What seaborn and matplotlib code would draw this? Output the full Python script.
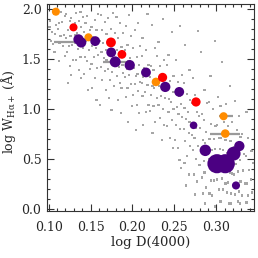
import matplotlib
matplotlib.use("Agg")
import matplotlib.pyplot as plt
import seaborn as sns
import pandas as pd
from matplotlib.ticker import MultipleLocator

# ---------------- data ----------------
grey_x = [
    0.106, 0.102, 0.109, 0.101, 0.104, 0.108, 0.103, 0.105, 0.107,
    0.115, 0.119, 0.112, 0.116, 0.111, 0.118, 0.114, 0.113, 0.117, 0.119, 0.112,
    0.121, 0.127, 0.125, 0.129, 0.123, 0.126, 0.121, 0.128, 0.124, 0.122, 0.129, 0.125, 0.127, 0.123,
    0.138, 0.133, 0.131, 0.136, 0.139, 0.134, 0.132, 0.137, 0.131, 0.135, 0.138, 0.133, 0.136, 0.139,
    0.146, 0.141, 0.144, 0.149, 0.142, 0.147, 0.145, 0.141, 0.148, 0.143, 0.146, 0.149, 0.142, 0.147,
    0.159, 0.155, 0.151, 0.157, 0.153, 0.158, 0.152, 0.156, 0.159, 0.154, 0.151, 0.158, 0.155, 0.152, 0.157,
    0.162, 0.167, 0.164, 0.169, 0.161, 0.165, 0.168, 0.163, 0.166, 0.169, 0.162, 0.167, 0.164, 0.168, 0.161,
    0.177, 0.171, 0.174, 0.179, 0.173, 0.176, 0.172, 0.178, 0.175, 0.179, 0.171, 0.176, 0.173, 0.178, 0.172, 0.175,
    0.181, 0.185, 0.189, 0.183, 0.187, 0.182, 0.186, 0.181, 0.188, 0.184, 0.189, 0.182, 0.185, 0.187, 0.183, 0.186,
    0.196, 0.192, 0.198, 0.194, 0.191, 0.197, 0.195, 0.199, 0.193, 0.196, 0.191, 0.198, 0.194, 0.192, 0.199, 0.195,
    0.207, 0.203, 0.209, 0.201, 0.205, 0.208, 0.202, 0.206, 0.204, 0.209, 0.203, 0.207, 0.201, 0.205, 0.208, 0.204,
    0.218, 0.212, 0.216, 0.211, 0.219, 0.214, 0.217, 0.213, 0.211, 0.218, 0.215, 0.212, 0.219, 0.216, 0.213,
    0.223, 0.227, 0.229, 0.222, 0.225, 0.221, 0.228, 0.224, 0.226, 0.222, 0.229, 0.225, 0.221, 0.227, 0.224,
    0.236, 0.231, 0.238, 0.233, 0.235, 0.239, 0.232, 0.237, 0.234, 0.239, 0.231, 0.236, 0.233, 0.238, 0.235,
    0.247, 0.243, 0.241, 0.249, 0.245, 0.242, 0.248, 0.244, 0.246, 0.249, 0.243, 0.247, 0.241, 0.245, 0.248,
    0.257, 0.252, 0.259, 0.254, 0.251, 0.256, 0.258, 0.253, 0.255, 0.259, 0.252, 0.257, 0.251, 0.254, 0.256, 0.258,
    0.263, 0.268, 0.261, 0.265, 0.269, 0.262, 0.266, 0.264, 0.268, 0.261, 0.267, 0.263, 0.269, 0.265, 0.262, 0.267, 0.264,
    0.278, 0.272, 0.275, 0.271, 0.277, 0.279, 0.273, 0.276, 0.271, 0.274, 0.278, 0.272, 0.276, 0.279, 0.273, 0.277, 0.275,
    0.282, 0.286, 0.289, 0.283, 0.285, 0.281, 0.288, 0.284, 0.287, 0.282, 0.289, 0.285, 0.281, 0.286, 0.283, 0.288, 0.284, 0.287,
    0.298, 0.293, 0.291, 0.296, 0.294, 0.299, 0.292, 0.297, 0.295, 0.298, 0.293, 0.291, 0.296, 0.299, 0.294, 0.297, 0.292, 0.295, 0.298,
    0.307, 0.302, 0.305, 0.309, 0.301, 0.306, 0.303, 0.308, 0.304, 0.306, 0.302, 0.309, 0.305, 0.301, 0.307, 0.303, 0.308, 0.304, 0.306,
    0.316, 0.312, 0.319, 0.314, 0.311, 0.317, 0.313, 0.318, 0.315, 0.312, 0.319, 0.316, 0.311, 0.314, 0.318, 0.313, 0.317, 0.315,
    0.322, 0.327, 0.325, 0.329, 0.321, 0.324, 0.328, 0.323, 0.326, 0.321, 0.329, 0.324, 0.327, 0.322, 0.326, 0.328,
    0.336, 0.331, 0.338, 0.333, 0.335, 0.339, 0.332, 0.337, 0.334, 0.338, 0.331, 0.336,
    0.342, 0.344, 0.341, 0.343,
]
grey_y = [
    1.95, 1.88, 1.84, 1.82, 1.77, 1.75, 1.68, 1.65, 1.57,
    1.97, 1.93, 1.86, 1.87, 1.80, 1.74, 1.73, 1.66, 1.63, 1.53, 1.48,
    1.95, 1.91, 1.88, 1.82, 1.79, 1.73, 1.71, 1.64, 1.63, 1.57, 1.49, 1.43, 1.34, 1.26,
    1.97, 1.96, 1.86, 1.88, 1.82, 1.76, 1.74, 1.67, 1.66, 1.60, 1.52, 1.49, 1.39, 1.31,
    1.93, 1.92, 1.86, 1.79, 1.77, 1.70, 1.68, 1.61, 1.59, 1.52, 1.48, 1.40, 1.35, 1.19,
    1.95, 1.89, 1.82, 1.79, 1.72, 1.70, 1.63, 1.61, 1.54, 1.52, 1.45, 1.41, 1.31, 1.21, 1.09,
    1.94, 1.87, 1.79, 1.75, 1.68, 1.66, 1.59, 1.57, 1.51, 1.49, 1.42, 1.38, 1.29, 1.19, 1.04,
    1.96, 1.91, 1.80, 1.76, 1.67, 1.63, 1.56, 1.54, 1.48, 1.46, 1.40, 1.37, 1.29, 1.23, 1.11, 0.99,
    1.92, 1.86, 1.76, 1.71, 1.62, 1.59, 1.52, 1.50, 1.44, 1.42, 1.36, 1.33, 1.26, 1.21, 1.09, 0.96,
    1.94, 1.83, 1.73, 1.64, 1.59, 1.51, 1.48, 1.42, 1.40, 1.34, 1.32, 1.25, 1.21, 1.12, 1.03, 0.87,
    1.86, 1.79, 1.63, 1.61, 1.52, 1.44, 1.41, 1.35, 1.33, 1.27, 1.25, 1.18, 1.14, 1.04, 0.96, 0.79,
    1.95, 1.71, 1.59, 1.53, 1.44, 1.41, 1.34, 1.32, 1.26, 1.24, 1.17, 1.13, 1.04, 0.97, 0.84,
    1.84, 1.61, 1.53, 1.43, 1.39, 1.32, 1.29, 1.23, 1.21, 1.14, 1.11, 1.03, 0.98, 0.87, 0.76,
    1.90, 1.67, 1.49, 1.43, 1.34, 1.30, 1.23, 1.20, 1.13, 1.11, 1.04, 1.00, 0.91, 0.84, 0.69,
    1.77, 1.54, 1.44, 1.33, 1.28, 1.20, 1.17, 1.10, 1.07, 1.00, 0.97, 0.89, 0.83, 0.71, 0.61,
    1.83, 1.49, 1.34, 1.27, 1.17, 1.13, 1.05, 1.02, 0.95, 0.92, 0.84, 0.80, 0.69, 0.61, 0.49, 0.41,
    1.64, 1.39, 1.26, 1.15, 1.09, 1.01, 0.97, 0.90, 0.87, 0.80, 0.76, 0.68, 0.63, 0.53, 0.46, 0.34, 0.23,
    1.78, 1.31, 1.14, 1.06, 0.97, 0.93, 0.85, 0.81, 0.74, 0.71, 0.63, 0.59, 0.50, 0.44, 0.34, 0.27, 0.14,
    1.57, 1.19, 1.06, 0.95, 0.89, 0.81, 0.77, 0.69, 0.66, 0.59, 0.56, 0.48, 0.44, 0.36, 0.31, 0.21, 0.15, 0.05,
    1.68, 1.33, 1.07, 1.00, 0.85, 0.83, 0.70, 0.70, 0.59, 0.60, 0.49, 0.50, 0.39, 0.40, 0.28, 0.28, 0.15, 0.13, 0.02,
    1.47, 1.12, 1.03, 0.87, 0.84, 0.71, 0.71, 0.59, 0.60, 0.49, 0.50, 0.39, 0.40, 0.29, 0.30, 0.19, 0.19, 0.07, 0.07,
    1.23, 1.05, 0.87, 0.83, 0.69, 0.68, 0.56, 0.56, 0.45, 0.46, 0.35, 0.36, 0.25, 0.26, 0.15, 0.16, 0.05, 0.05,
    1.08, 0.93, 0.79, 0.72, 0.62, 0.57, 0.49, 0.45, 0.37, 0.34, 0.27, 0.24, 0.17, 0.14, 0.07, 0.05,
    0.97, 0.75, 0.71, 0.55, 0.53, 0.39, 0.38, 0.25, 0.25, 0.13, 0.13, 0.06,
    0.58, 0.46, 0.29, 0.16,
]

# horizontal error bars (grey)
err_y = [1.672, 1.470, 0.751, 0.925]
err_xlo = [0.1066, 0.165, 0.293, 0.303]
err_xhi = [0.135, 0.197, 0.3287, 0.3195]

orange_x = [0.1086, 0.1475, 0.228, 0.3087, 0.3107]
orange_y = [1.973, 1.716, 1.269, 0.925, 0.751]
orange_s = [34, 34, 38, 34, 38]

red_x = [0.1296, 0.1743, 0.1874, 0.2359, 0.2758]
red_y = [1.816, 1.665, 1.545, 1.314, 1.068]
red_s = [34, 50, 40, 44, 44]

purple_x = [0.1356, 0.1388, 0.1555, 0.1746, 0.1794, 0.1967, 0.2161, 0.2391,
            0.2558, 0.2729, 0.2869, 0.3008, 0.3107, 0.3207, 0.3275, 0.3235]
purple_y = [1.695, 1.665, 1.678, 1.565, 1.470, 1.437, 1.364, 1.219,
            1.169, 0.834, 0.583, 0.449, 0.449, 0.550, 0.626, 0.231]
purple_s = [55, 55, 50, 50, 62, 55, 50, 55,
            50, 30, 68, 190, 190, 100, 55, 34]

# ---------------- plot ----------------
sns.set_theme(style="ticks")
plt.rcParams['font.family'] = ['DejaVu Serif', 'DejaVu Sans']
plt.rcParams['mathtext.fontset'] = 'dejavuserif'

fig = plt.figure(figsize=(2.58, 2.58), dpi=100)
ax = fig.add_axes([47/258, 1 - 211/258, 207/258, 207/258])

grey_df = pd.DataFrame({"x": grey_x, "y": grey_y})
sns.scatterplot(data=grey_df, x="x", y="y", ax=ax, s=2.5, marker="s",
                color="#a6a6a6", edgecolor="none", linewidth=0, zorder=1)

ax.hlines(err_y, err_xlo, err_xhi, colors="#9a9a9a", linewidth=1.6, zorder=2)

for xs, ys, ss, col in [(orange_x, orange_y, orange_s, "#ff8c00"),
                        (red_x, red_y, red_s, "#ff0000"),
                        (purple_x, purple_y, purple_s, "#4b0082")]:
    df = pd.DataFrame({"x": xs, "y": ys, "s": ss})
    ax.scatter(df["x"], df["y"], s=df["s"], color=col, edgecolor="none",
               linewidth=0, zorder=3)

ax.set_xlim(0.098, 0.345)
ax.set_ylim(-0.025, 2.05)
ax.xaxis.set_major_locator(MultipleLocator(0.05))
ax.xaxis.set_minor_locator(MultipleLocator(0.01))
ax.yaxis.set_major_locator(MultipleLocator(0.5))
ax.yaxis.set_minor_locator(MultipleLocator(0.1))
ax.xaxis.set_major_formatter(plt.FormatStrFormatter('%.2f'))
ax.yaxis.set_major_formatter(plt.FormatStrFormatter('%.1f'))

ax.tick_params(which='both', direction='in', top=True, right=True,
               color='#333333', width=0.8)
ax.tick_params(which='major', length=5)
ax.tick_params(which='minor', length=2.5)
ax.tick_params(axis='x', which='major', labelsize=9, pad=7)
ax.tick_params(axis='y', which='major', labelsize=9, pad=4)
for sp in ax.spines.values():
    sp.set_color('#333333')
    sp.set_linewidth(0.8)

ax.set_xlabel("log D(4000)", fontsize=9.5)
ax.set_ylabel(r"log W$_{\mathrm{H\alpha +}}$ ($\mathrm{\AA}$)", fontsize=9)
ax.xaxis.set_label_coords(0.5, -0.12)
ax.yaxis.set_label_coords(-0.14, 0.48)

fig.savefig("out.png", dpi=100)
